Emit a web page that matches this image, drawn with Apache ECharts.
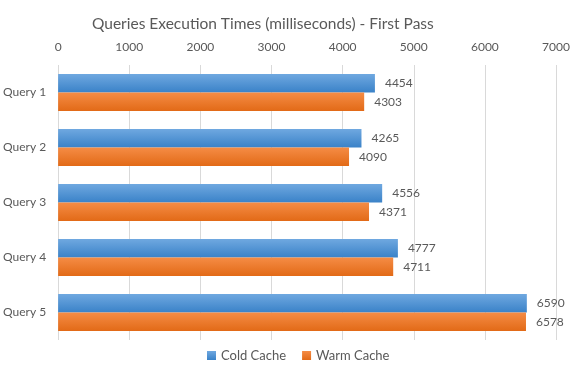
<!DOCTYPE html>
<html lang="en">
<head>
    <meta charset="UTF-8">
    <title>Queries Execution Times</title>
    <script src="https://cdn.jsdelivr.net/npm/echarts@6/dist/echarts.min.js"></script>
    <style>
        html, body { margin: 0; padding: 0; background: #fff; }
        #charts { width: 580px; height: 376px; }
    </style>
</head>
<body>
<div id="charts"></div>
<script>
    var categories = ['Query 1', 'Query 2', 'Query 3', 'Query 4', 'Query 5'];
    var coldCache = [4454, 4265, 4556, 4777, 6590];
    var warmCache = [4303, 4090, 4371, 4711, 6578];
    var xTicks = [0, 7000, 1000]; // min, max, interval

    var myChart = echarts.init(document.getElementById('charts'));
    var textColor = '#595959';
    var font = 'Lato, "Open Sans", sans-serif';

    function grad(top, bottom) {
        return new echarts.graphic.LinearGradient(0, 0, 0, 1, [
            {offset: 0, color: top},
            {offset: 1, color: bottom}
        ]);
    }

    var option = {
        animation: false,
        title: {
            text: 'Queries Execution Times (milliseconds) - First Pass',
            left: 87,
            top: 11,
            textStyle: {color: textColor, fontSize: 15.5, fontWeight: 'normal', fontFamily: font}
        },
        legend: {
            bottom: 9,
            left: 202,
            itemWidth: 9,
            itemHeight: 9,
            itemGap: 16,
            icon: 'rect',
            textStyle: {color: textColor, fontSize: 13, fontFamily: font},
            data: ['Cold Cache', 'Warm Cache']
        },
        grid: {left: 58, right: 24, top: 65, bottom: 36},
        xAxis: {
            type: 'value',
            position: 'top',
            min: xTicks[0],
            max: xTicks[1],
            interval: xTicks[2],
            axisLine: {show: false},
            axisTick: {show: false},
            axisLabel: {
                color: textColor, fontSize: 12, fontFamily: font, margin: 12,
                formatter: function (v) { return String(v); }
            },
            splitLine: {lineStyle: {color: '#d9d9d9'}}
        },
        yAxis: {
            type: 'category',
            inverse: true,
            data: categories,
            axisLine: {show: false},
            axisTick: {show: false},
            axisLabel: {color: textColor, fontSize: 12, fontFamily: font, margin: 12}
        },
        series: [
            {
                name: 'Cold Cache',
                type: 'bar',
                data: coldCache,
                barGap: '0%',
                barCategoryGap: '33%',
                itemStyle: {color: grad('#6fa8e0', '#3a82c8')},
                label: {show: true, position: 'right', distance: 10, color: textColor, fontSize: 12, fontFamily: font}
            },
            {
                name: 'Warm Cache',
                type: 'bar',
                data: warmCache,
                itemStyle: {color: grad('#f58c45', '#e26a17')},
                label: {show: true, position: 'right', distance: 10, color: textColor, fontSize: 12, fontFamily: font}
            }
        ]
    };

    myChart.setOption(option);
</script>
</body>
</html>
